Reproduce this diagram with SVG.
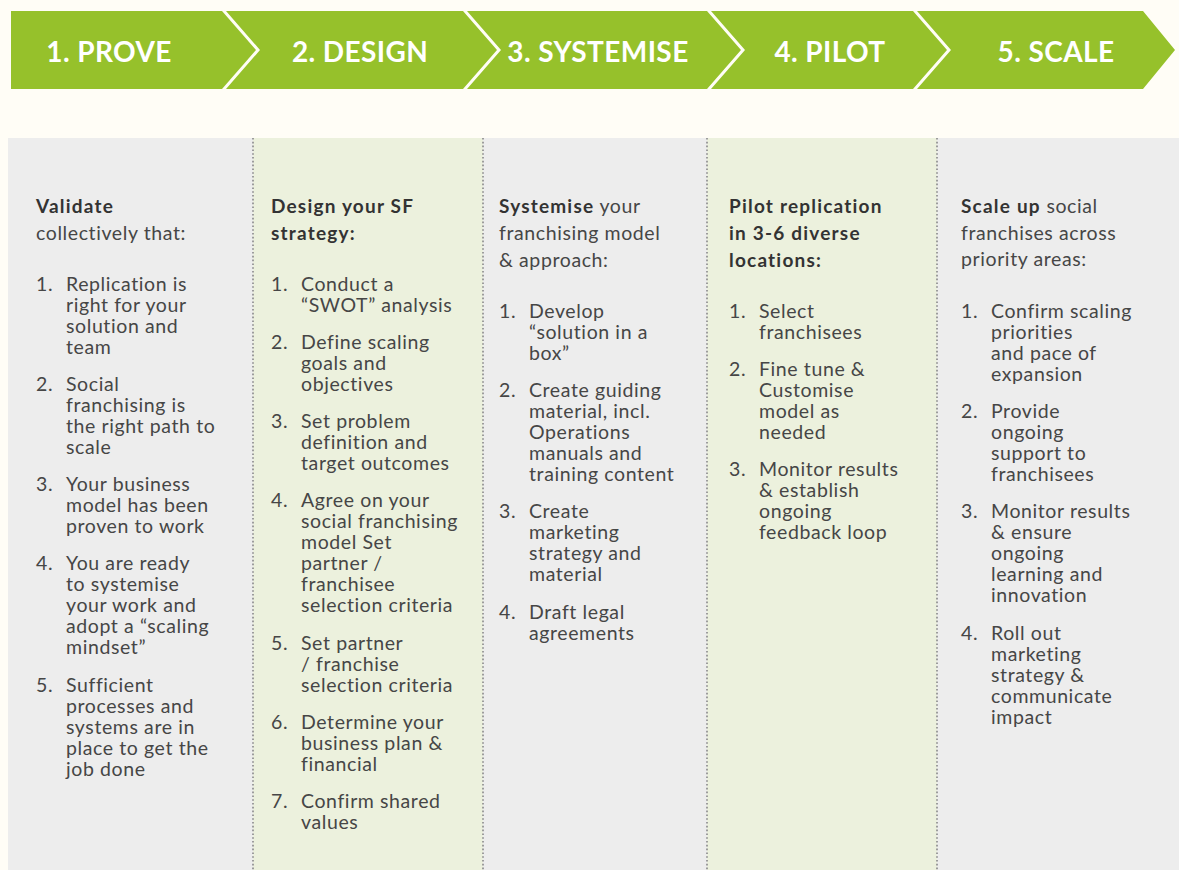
<svg xmlns="http://www.w3.org/2000/svg" width="1179" height="870" viewBox="0 0 1179 870">
<style>
.step{fill:#96C12B}
.stxt{font-family:Lato,"Open Sans",sans-serif;font-weight:700;font-size:28px;letter-spacing:0.4px;fill:#FFFFFF;text-anchor:middle}
.gray{fill:#EDEDED}
.tint{fill:#ECF1DD}
.sep{stroke:#9C9C9C;stroke-width:2;stroke-dasharray:1.6 2.2;fill:none}
.h{font-family:Lato,"Open Sans",sans-serif;font-weight:700;font-size:19px;letter-spacing:1.2px;fill:#333333}
.b{font-family:Lato,"Open Sans",sans-serif;font-weight:400;font-size:19.5px;letter-spacing:0.6px;fill:#464646}
.bw{font-weight:700;fill:#333333;font-size:19px;letter-spacing:1.2px}
</style>
<rect x="0" y="0" width="1179" height="870" fill="#FFFDF6"/>

<g id="step1"><path class="step" d="M11,11 H222 L256,50 L222,89 H11 Z"/><text class="stxt" x="109" y="62">1. PROVE</text></g>
<g id="step2"><path class="step" d="M226,11 H463 L497,50 L463,89 H226 L260,50 Z"/><text class="stxt" x="360" y="62">2. DESIGN</text></g>
<g id="step3"><path class="step" d="M467,11 H707 L741,50 L707,89 H467 L501,50 Z"/><text class="stxt" x="598" y="62">3. SYSTEMISE</text></g>
<g id="step4"><path class="step" d="M711,11 H913 L947,50 L913,89 H711 L745,50 Z"/><text class="stxt" x="830" y="62">4. PILOT</text></g>
<g id="step5"><path class="step" d="M917,11 H1143 L1175,50 L1143,89 H917 L951,50 Z"/><text class="stxt" x="1056" y="62">5. SCALE</text></g>

<g id="panels">
<rect class="gray" x="8" y="138" width="245" height="732"/>
<rect class="tint" x="253" y="138" width="230" height="732"/>
<rect class="gray" x="483" y="138" width="224" height="732"/>
<rect class="tint" x="707" y="138" width="230" height="732"/>
<rect class="gray" x="937" y="138" width="242" height="732"/>
</g>
<g id="separators">
<line class="sep" x1="253" y1="138" x2="253" y2="870"/>
<line class="sep" x1="483" y1="138" x2="483" y2="870"/>
<line class="sep" x1="707" y1="138" x2="707" y2="870"/>
<line class="sep" x1="937" y1="138" x2="937" y2="870"/>
</g>

<g id="col1">
<text class="h" x="36" y="213">Validate</text>
<text class="b" x="36" y="240">collectively that:</text>
<text class="b"><tspan x="36" y="291">1.</tspan><tspan x="66" y="291">Replication is</tspan><tspan x="66" y="312">right for your</tspan><tspan x="66" y="333">solution and</tspan><tspan x="66" y="354">team</tspan></text>
<text class="b"><tspan x="36" y="391">2.</tspan><tspan x="66" y="391">Social</tspan><tspan x="66" y="412">franchising is</tspan><tspan x="66" y="433">the right path to</tspan><tspan x="66" y="454">scale</tspan></text>
<text class="b"><tspan x="36" y="491">3.</tspan><tspan x="66" y="491">Your business</tspan><tspan x="66" y="512">model has been</tspan><tspan x="66" y="533">proven to work</tspan></text>
<text class="b"><tspan x="36" y="570">4.</tspan><tspan x="66" y="570">You are ready</tspan><tspan x="66" y="591">to systemise</tspan><tspan x="66" y="612">your work and</tspan><tspan x="66" y="633">adopt a “scaling</tspan><tspan x="66" y="654">mindset”</tspan></text>
<text class="b"><tspan x="36" y="692">5.</tspan><tspan x="66" y="692">Sufficient</tspan><tspan x="66" y="713">processes and</tspan><tspan x="66" y="734">systems are in</tspan><tspan x="66" y="755">place to get the</tspan><tspan x="66" y="776">job done</tspan></text>
</g>

<g id="col2">
<text class="h"><tspan x="271" y="213">Design your SF</tspan><tspan x="271" y="240">strategy:</tspan></text>
<text class="b"><tspan x="271" y="291">1.</tspan><tspan x="301" y="291">Conduct a</tspan><tspan x="301" y="312">“SWOT” analysis</tspan></text>
<text class="b"><tspan x="271" y="349">2.</tspan><tspan x="301" y="349">Define scaling</tspan><tspan x="301" y="370">goals and</tspan><tspan x="301" y="391">objectives</tspan></text>
<text class="b"><tspan x="271" y="428">3.</tspan><tspan x="301" y="428">Set problem</tspan><tspan x="301" y="449">definition and</tspan><tspan x="301" y="470">target outcomes</tspan></text>
<text class="b"><tspan x="271" y="507">4.</tspan><tspan x="301" y="507">Agree on your</tspan><tspan x="301" y="528">social franchising</tspan><tspan x="301" y="549">model Set</tspan><tspan x="301" y="570">partner /</tspan><tspan x="301" y="591">franchisee</tspan><tspan x="301" y="612">selection criteria</tspan></text>
<text class="b"><tspan x="271" y="650">5.</tspan><tspan x="301" y="650">Set partner</tspan><tspan x="301" y="671">/ franchise</tspan><tspan x="301" y="692">selection criteria</tspan></text>
<text class="b"><tspan x="271" y="729">6.</tspan><tspan x="301" y="729">Determine your</tspan><tspan x="301" y="750">business plan &amp;</tspan><tspan x="301" y="771">financial</tspan></text>
<text class="b"><tspan x="271" y="808">7.</tspan><tspan x="301" y="808">Confirm shared</tspan><tspan x="301" y="829">values</tspan></text>
</g>

<g id="col3">
<text class="b"><tspan x="499" y="213" class="bw">Systemise</tspan><tspan> your</tspan><tspan x="499" y="240">franchising model</tspan><tspan x="499" y="267">&amp; approach:</tspan></text>
<text class="b"><tspan x="499" y="318">1.</tspan><tspan x="529" y="318">Develop</tspan><tspan x="529" y="339">“solution in a</tspan><tspan x="529" y="360">box”</tspan></text>
<text class="b"><tspan x="499" y="397">2.</tspan><tspan x="529" y="397">Create guiding</tspan><tspan x="529" y="418">material, incl.</tspan><tspan x="529" y="439">Operations</tspan><tspan x="529" y="460">manuals and</tspan><tspan x="529" y="481">training content</tspan></text>
<text class="b"><tspan x="499" y="518">3.</tspan><tspan x="529" y="518">Create</tspan><tspan x="529" y="539">marketing</tspan><tspan x="529" y="560">strategy and</tspan><tspan x="529" y="581">material</tspan></text>
<text class="b"><tspan x="499" y="619">4.</tspan><tspan x="529" y="619">Draft legal</tspan><tspan x="529" y="640">agreements</tspan></text>
</g>

<g id="col4">
<text class="h"><tspan x="729" y="213">Pilot replication</tspan><tspan x="729" y="240">in 3-6 diverse</tspan><tspan x="729" y="267">locations:</tspan></text>
<text class="b"><tspan x="729" y="318">1.</tspan><tspan x="759" y="318">Select</tspan><tspan x="759" y="339">franchisees</tspan></text>
<text class="b"><tspan x="729" y="376">2.</tspan><tspan x="759" y="376">Fine tune &amp;</tspan><tspan x="759" y="397">Customise</tspan><tspan x="759" y="418">model as</tspan><tspan x="759" y="439">needed</tspan></text>
<text class="b"><tspan x="729" y="476">3.</tspan><tspan x="759" y="476">Monitor results</tspan><tspan x="759" y="497">&amp; establish</tspan><tspan x="759" y="518">ongoing</tspan><tspan x="759" y="539">feedback loop</tspan></text>
</g>

<g id="col5">
<text class="b"><tspan x="961" y="213" class="bw">Scale up</tspan><tspan> social</tspan><tspan x="961" y="240">franchises across</tspan><tspan x="961" y="266">priority areas:</tspan></text>
<text class="b"><tspan x="961" y="318">1.</tspan><tspan x="991" y="318">Confirm scaling</tspan><tspan x="991" y="339">priorities</tspan><tspan x="991" y="360">and pace of</tspan><tspan x="991" y="381">expansion</tspan></text>
<text class="b"><tspan x="961" y="418">2.</tspan><tspan x="991" y="418">Provide</tspan><tspan x="991" y="439">ongoing</tspan><tspan x="991" y="460">support to</tspan><tspan x="991" y="481">franchisees</tspan></text>
<text class="b"><tspan x="961" y="518">3.</tspan><tspan x="991" y="518">Monitor results</tspan><tspan x="991" y="539">&amp; ensure</tspan><tspan x="991" y="560">ongoing</tspan><tspan x="991" y="581">learning and</tspan><tspan x="991" y="602">innovation</tspan></text>
<text class="b"><tspan x="961" y="640">4.</tspan><tspan x="991" y="640">Roll out</tspan><tspan x="991" y="661">marketing</tspan><tspan x="991" y="682">strategy &amp;</tspan><tspan x="991" y="703">communicate</tspan><tspan x="991" y="724">impact</tspan></text>
</g>
</svg>
